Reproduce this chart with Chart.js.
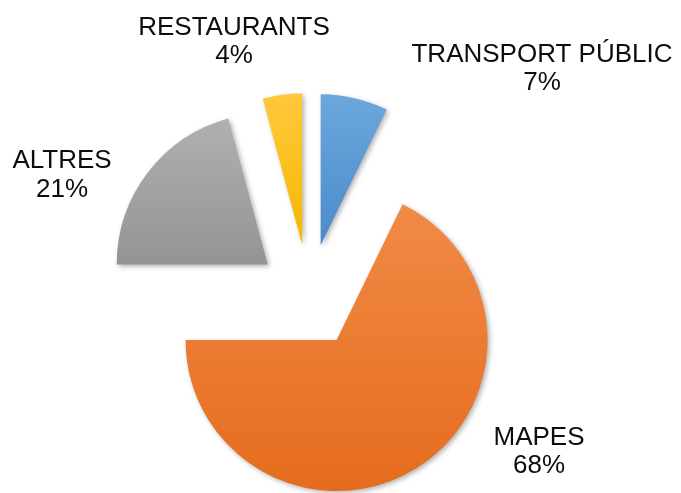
<!DOCTYPE html>
<html><head><meta charset="utf-8">
<script src="https://cdn.jsdelivr.net/npm/chart.js@4.4.1/dist/chart.umd.min.js"></script>
<style>html,body{margin:0;padding:0;background:#fff;overflow:hidden;}</style>
</head><body>
<canvas id="c" width="681" height="493"></canvas>
<script>
// ---- data ----
const categories = ['TRANSPORT PÚBLIC', 'MAPES', 'ALTRES', 'RESTAURANTS'];
const shares = [7.2, 67.8, 20.8, 4.2];

// ---- styles / layout ----
const colorsTop = ['#6CA7DD', '#F18A46', '#B0B0B0', '#FFC83C'];
const colorsBottom = ['#4A8BCB', '#E56C1E', '#949494', '#F5B800'];
const explode = 52;
const labelFont = '26px "Liberation Sans", Arial, sans-serif';
const labelLineGap = 28.5;
// first-line baseline of each label, relative to the pie centre
const labelOffsets = [[233, -234.5], [230, 148.5], [-247, -128], [-75, -261.5]];

const explodePlugin = {
  id: 'explodePie',
  afterUpdate(chart) {
    const meta = chart.getDatasetMeta(0);
    const ctx = chart.ctx;
    meta.data.forEach((arc, i) => {
      const mid = (arc.startAngle + arc.endAngle) / 2;
      arc.x += Math.cos(mid) * explode;
      arc.y += Math.sin(mid) * explode;
      const r = arc.outerRadius;
      const ys = [arc.y, arc.y + Math.sin(arc.startAngle) * r, arc.y + Math.sin(arc.endAngle) * r];
      [-Math.PI / 2, Math.PI / 2, 3 * Math.PI / 2].forEach(a => {
        if (a > arc.startAngle && a < arc.endAngle) ys.push(arc.y + Math.sin(a) * r);
      });
      const g = ctx.createLinearGradient(0, Math.min(...ys), 0, Math.max(...ys));
      g.addColorStop(0, colorsTop[i]);
      g.addColorStop(1, colorsBottom[i]);
      try { arc.options.backgroundColor = g; }
      catch (e) { arc.options = Object.assign({}, arc.options, { backgroundColor: g }); }
    });
  },
  beforeDatasetsDraw(chart) {
    const ctx = chart.ctx;
    ctx.save();
    ctx.shadowColor = 'rgba(0,0,0,0.30)';
    ctx.shadowBlur = 5;
    ctx.shadowOffsetX = 2;
    ctx.shadowOffsetY = 2;
  },
  afterDatasetsDraw(chart) {
    chart.ctx.restore();
  },
  afterDraw(chart) {
    const ctx = chart.ctx;
    const a = chart.chartArea;
    const cx = (a.left + a.right) / 2, cy = (a.top + a.bottom) / 2;
    const total = shares.reduce((s, v) => s + v, 0);
    ctx.save();
    ctx.font = labelFont;
    ctx.fillStyle = '#0d0d0d';
    ctx.textAlign = 'center';
    ctx.textBaseline = 'alphabetic';
    categories.forEach((name, i) => {
      const x = cx + labelOffsets[i][0];
      const y = cy + labelOffsets[i][1];
      ctx.fillText(name, x, y);
      ctx.fillText(Math.round(shares[i] / total * 100) + '%', x, y + labelLineGap);
    });
    ctx.restore();
  }
};

new Chart(document.getElementById('c'), {
  type: 'pie',
  data: {
    labels: categories,
    datasets: [{
      data: shares,
      backgroundColor: colorsBottom,
      borderWidth: 0
    }]
  },
  options: {
    responsive: false,
    animation: false,
    events: [],
    layout: { padding: { left: 158, right: 221, top: 145, bottom: 46 } },
    plugins: { legend: { display: false }, tooltip: { enabled: false } }
  },
  plugins: [explodePlugin]
});
</script>
</body></html>
